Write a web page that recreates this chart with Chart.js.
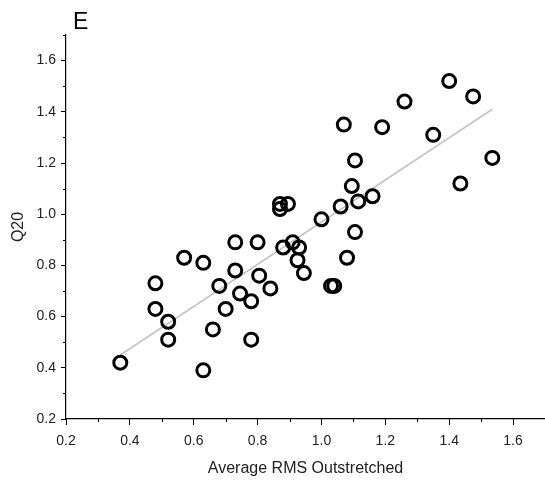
<!DOCTYPE html>
<html>
<head>
<meta charset="utf-8">
<script src="https://cdn.jsdelivr.net/npm/chart.js@4/dist/chart.umd.min.js"></script>
<style>
  html, body { margin: 0; padding: 0; background: #fff; overflow: hidden; }
  #wrap { width: 545px; height: 483px; position: relative; }
  canvas { display: block; }
</style>
</head>
<body>
<div id="wrap"><canvas id="chart"></canvas></div>
<script>
'use strict';

// values
const rmsValues = [0.37, 0.63, 0.48, 0.48, 0.52, 0.52, 0.57, 0.63, 0.66, 0.68, 0.70, 0.73, 0.73,
  0.745, 0.78, 0.78, 0.80, 0.805, 0.84, 0.87, 0.87, 0.895, 0.88, 0.91, 0.93, 0.925, 0.945, 1.00,
  1.03, 1.04, 1.06, 1.07, 1.08, 1.095, 1.105, 1.105, 1.115, 1.16, 1.19, 1.26, 1.35, 1.40, 1.435,
  1.475, 1.535];
const q20Values = [0.42, 0.39, 0.73, 0.63, 0.58, 0.51, 0.83, 0.81, 0.55, 0.72, 0.63, 0.89, 0.78,
  0.69, 0.66, 0.51, 0.89, 0.76, 0.71, 1.04, 1.02, 1.04, 0.87, 0.89, 0.87, 0.82, 0.77, 0.98,
  0.72, 0.72, 1.03, 1.35, 0.83, 1.11, 1.21, 0.93, 1.05, 1.07, 1.34, 1.44, 1.31, 1.52, 1.12,
  1.46, 1.22];

// fit line end points
const fitX = [0.37, 1.535];
const fitY = [0.45, 1.41];

const xTicks = [0.2, 0.4, 0.6, 0.8, 1.0, 1.2, 1.4, 1.6];
const yTicks = [0.2, 0.4, 0.6, 0.8, 1.0, 1.2, 1.4, 1.6];

let points = rmsValues.map((x, i) => ({ x: x, y: q20Values[i] }));
let fitPoints = fitX.map((x, i) => ({ x: x, y: fitY[i] }));

function isMajor(v, list) {
  return list.some(t => Math.abs(t - v) < 1e-6);
}

const fontFam = 'Arial, "Liberation Sans", sans-serif';

// minor tick marks and the panel letter
const extras = {
  id: 'extras',
  afterDraw(chart) {
    const ctx = chart.ctx;
    const xs = chart.scales.x;
    const ys = chart.scales.y;
    ctx.save();
    ctx.strokeStyle = '#000';
    ctx.lineWidth = 1;
    xs.ticks.forEach(t => {
      if (isMajor(t.value, xTicks)) return;
      let px = Math.round(xs.getPixelForValue(t.value)) + 0.5;
      ctx.beginPath();
      ctx.moveTo(px, xs.top);
      ctx.lineTo(px, xs.top + 3);
      ctx.stroke();
    });
    ys.ticks.forEach(t => {
      if (isMajor(t.value, yTicks)) return;
      let py = Math.round(ys.getPixelForValue(t.value)) + 0.5;
      ctx.beginPath();
      ctx.moveTo(ys.right, py);
      ctx.lineTo(ys.right - 3, py);
      ctx.stroke();
    });
    ctx.fillStyle = '#000';
    ctx.font = '23px ' + fontFam;
    ctx.textBaseline = 'alphabetic';
    ctx.fillText('E', 73, 29);
    ctx.restore();
  }
};

new Chart(document.getElementById('chart'), {
  type: 'scatter',
  data: {
    datasets: [
      {
        label: 'data',
        data: points,
        pointStyle: 'circle',
        pointRadius: 6.5,
        pointHoverRadius: 6.5,
        borderWidth: 3,
        borderColor: '#000',
        backgroundColor: 'rgba(0,0,0,0)',
        order: 1
      },
      {
        type: 'line',
        label: 'fit',
        data: fitPoints,
        borderColor: '#c4c4c4',
        borderWidth: 1.6,
        pointRadius: 0,
        fill: false,
        order: 2
      }
    ]
  },
  options: {
    responsive: true,
    maintainAspectRatio: false,
    animation: false,
    layout: { autoPadding: false, padding: { top: 35, right: 0, left: 0, bottom: 0 } },
    plugins: {
      legend: { display: false },
      tooltip: { enabled: false }
    },
    scales: {
      x: {
        type: 'linear',
        min: 0.2,
        max: 1.7,
        afterFit(scale) {
          scale.height = 64;
          scale.paddingLeft = 0;
          scale.paddingRight = 0;
        },
        border: { display: true, color: '#000', width: 1.2 },
        grid: {
          drawOnChartArea: false,
          drawTicks: true,
          tickLength: 6,
          tickColor: ctx => (ctx.tick && isMajor(ctx.tick.value, xTicks)) ? '#000' : 'rgba(0,0,0,0)'
        },
        ticks: {
          stepSize: 0.1,
          autoSkip: false,
          maxRotation: 0,
          padding: 8,
          color: '#222',
          font: { family: fontFam, size: 14 },
          callback: v => isMajor(v, xTicks) ? v.toFixed(1) : ''
        },
        title: {
          display: true,
          text: 'Average RMS Outstretched',
          color: '#222',
          font: { family: fontFam, size: 16 },
          padding: { top: 6, bottom: 5 }
        }
      },
      y: {
        type: 'linear',
        min: 0.2,
        max: 1.7,
        afterFit(scale) {
          scale.width = 66;
          scale.paddingTop = 0;
          scale.paddingBottom = 0;
        },
        border: { display: true, color: '#000', width: 1.2 },
        grid: {
          drawOnChartArea: false,
          drawTicks: true,
          tickLength: 5,
          tickColor: ctx => (ctx.tick && isMajor(ctx.tick.value, yTicks)) ? '#000' : 'rgba(0,0,0,0)'
        },
        ticks: {
          stepSize: 0.1,
          autoSkip: false,
          padding: 5,
          color: '#222',
          font: { family: fontFam, size: 14 },
          callback: v => isMajor(v, yTicks) ? v.toFixed(1) : ''
        },
        title: {
          display: true,
          text: 'Q20',
          color: '#222',
          font: { family: fontFam, size: 16 },
          padding: { top: 9, bottom: 0 }
        }
      }
    }
  },
  plugins: [extras]
});
</script>
</body>
</html>
